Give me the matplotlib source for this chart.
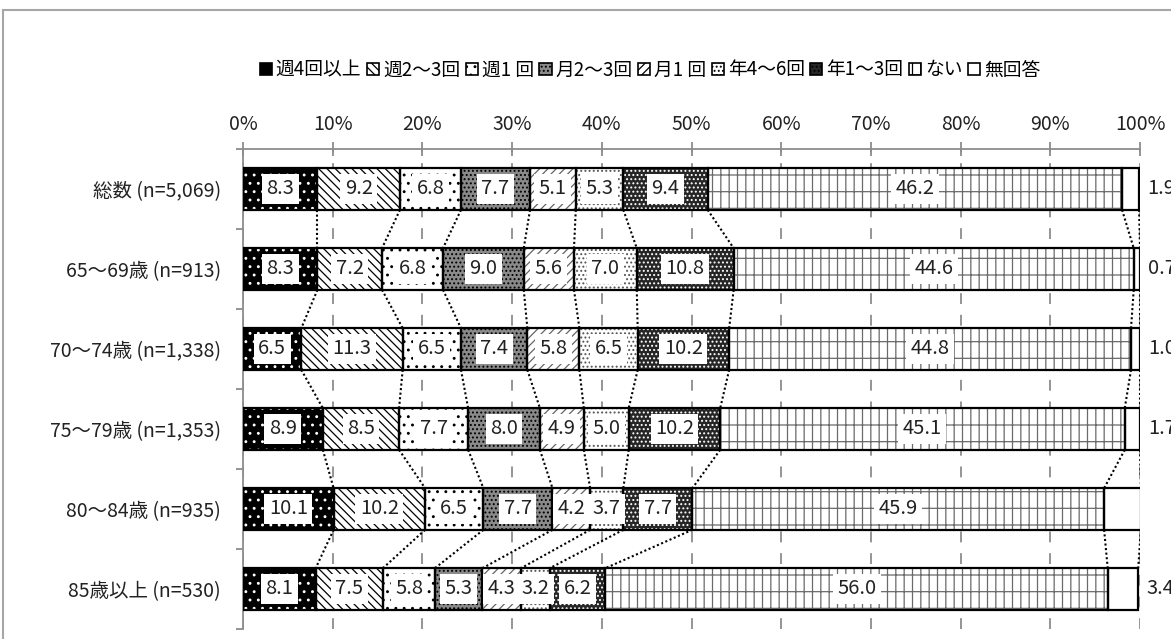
import matplotlib
matplotlib.use("Agg")
import matplotlib.pyplot as plt
import numpy as np
from matplotlib.patches import Rectangle

plt.rcParams['font.family'] = ['Noto Sans CJK JP', 'DejaVu Sans']
plt.rcParams['hatch.linewidth'] = 0.9

categories = ["総数 (n=5,069)", "65～69歳 (n=913)", "70～74歳 (n=1,338)",
              "75～79歳 (n=1,353)", "80～84歳 (n=935)", "85歳以上 (n=530)"]
series_names = ["週4回以上", "週2～3回", "週1 回", "月2～3回", "月1 回",
                "年4～6回", "年1～3回", "ない", "無回答"]
v_w4 = [8.3, 8.3, 6.5, 8.9, 10.1, 8.1]
v_w23 = [9.2, 7.2, 11.3, 8.5, 10.2, 7.5]
v_w1 = [6.8, 6.8, 6.5, 7.7, 6.5, 5.8]
v_m23 = [7.7, 9.0, 7.4, 8.0, 7.7, 5.3]
v_m1 = [5.1, 5.6, 5.8, 4.9, 4.2, 4.3]
v_y46 = [5.3, 7.0, 6.5, 5.0, 3.7, 3.2]
v_y13 = [9.4, 10.8, 10.2, 10.2, 7.7, 6.2]
v_none = [46.2, 44.6, 44.8, 45.1, 45.9, 56.0]
v_na = [1.9, 0.7, 1.0, 1.7, 4.1, 3.4]
x_ticks = [0, 10, 20, 30, 40, 50, 60, 70, 80, 90, 100]
x_ticklabels = [f"{t}%" for t in x_ticks]

values = [v_w4, v_w23, v_w1, v_m23, v_m1, v_y46, v_y13, v_none, v_na]
# (facecolor, hatch, hatchcolor)
styles = [
    ("#000000", "..", "#ffffff"),
    ("#ffffff", "\\\\\\\\", "#000000"),
    ("#ffffff", "..", "#000000"),
    ("#8a8a8a", "....", "#000000"),
    ("#ffffff", "////", "#666666"),
    ("#ffffff", "....", "#555555"),
    ("#262626", "....", "#ffffff"),
    ("#ffffff", "+|", "#6a6a6a"),
    ("#ffffff", None, "#000000"),
]

fig = plt.figure(figsize=(11.71, 6.39), dpi=100)
W, H = 1171, 639
ax = fig.add_axes([243 / W, 1 - 629 / H, (1140 - 243) / W, (629 - 149) / H])

# outer frame
fig.patches.append(Rectangle((3 / W, -0.1), 1.2, 1 - 10 / H + 0.1, transform=fig.transFigure,
                             fill=False, edgecolor="#a6a6a6", linewidth=1.5))

y = np.arange(len(categories))
h = 0.52
left = np.zeros(len(categories))
cums = [left.copy()]
handles = []
for i, (vals, (fc, hatch, hc)) in enumerate(zip(values, styles)):
    vals = np.array(vals)
    # pattern layer
    ax.barh(y, vals, left=left, height=h, color=fc, hatch=hatch, edgecolor=hc,
            linewidth=0, zorder=2)
    # outline layer
    cont = ax.barh(y, vals, left=left, height=h, fill=False, edgecolor="black",
                   linewidth=1.6, zorder=3)
    if i < len(values) - 1:
        ax.bar_label(cont, labels=[f"{v:.1f}" for v in vals], label_type="center",
                     fontsize=14.5, color="#222222", zorder=5,
                     bbox=dict(boxstyle="square,pad=0.22", facecolor="white", edgecolor="none"))
    else:
        ax.bar_label(cont, labels=[f"{v:.1f}" for v in vals], label_type="edge",
                     padding=6, fontsize=14.5, color="#222222", clip_on=False)
    left = left + vals
    cums.append(left.copy())
    handles.append(Rectangle((0, 0), 1, 1, facecolor=fc, hatch=hatch, edgecolor="black",
                             linewidth=1.2, label=series_names[i]))

# series lines
for k in range(len(categories) - 1):
    for c in cums[1:]:
        ax.plot([c[k], c[k + 1]], [y[k] + h / 2, y[k + 1] - h / 2], color="black",
                linestyle=(0, (1, 1.2)), linewidth=1.5, zorder=1)

ax.set_xlim(0, 100)
ax.set_ylim(len(categories) - 0.5, -0.5)
ax.xaxis.tick_top()
ax.set_xticks(x_ticks)
ax.set_xticklabels(x_ticklabels, fontsize=14, color="#222222")
ax.tick_params(axis="x", direction="inout", length=10, width=1.3, color="#8c8c8c", pad=5)
ax.set_yticks(y)
ax.set_yticklabels(categories, fontsize=14, color="#222222")
ax.set_yticks(np.arange(len(categories) + 1) - 0.5, minor=True)
ax.tick_params(axis="y", which="major", length=0, pad=16)
ax.tick_params(axis="y", which="minor", direction="out", length=5, width=1.3, color="#8c8c8c")
for s in ["right", "bottom"]:
    ax.spines[s].set_visible(False)
for s in ["top", "left"]:
    ax.spines[s].set_color("#8c8c8c")
    ax.spines[s].set_linewidth(1.3)
ax.set_axisbelow(True)
ax.xaxis.grid(True, color="#8c8c8c", linestyle=(0, (6, 6)), linewidth=1.3)

fig.legend(handles=handles, loc="center", bbox_to_anchor=(650 / W, 1 - 70 / H), ncol=9,
           frameon=False, fontsize=13.5, handlelength=0.65, handleheight=0.65,
           handletextpad=0.2, columnspacing=0.3, borderaxespad=0)

fig.savefig("out.png", dpi=100)
